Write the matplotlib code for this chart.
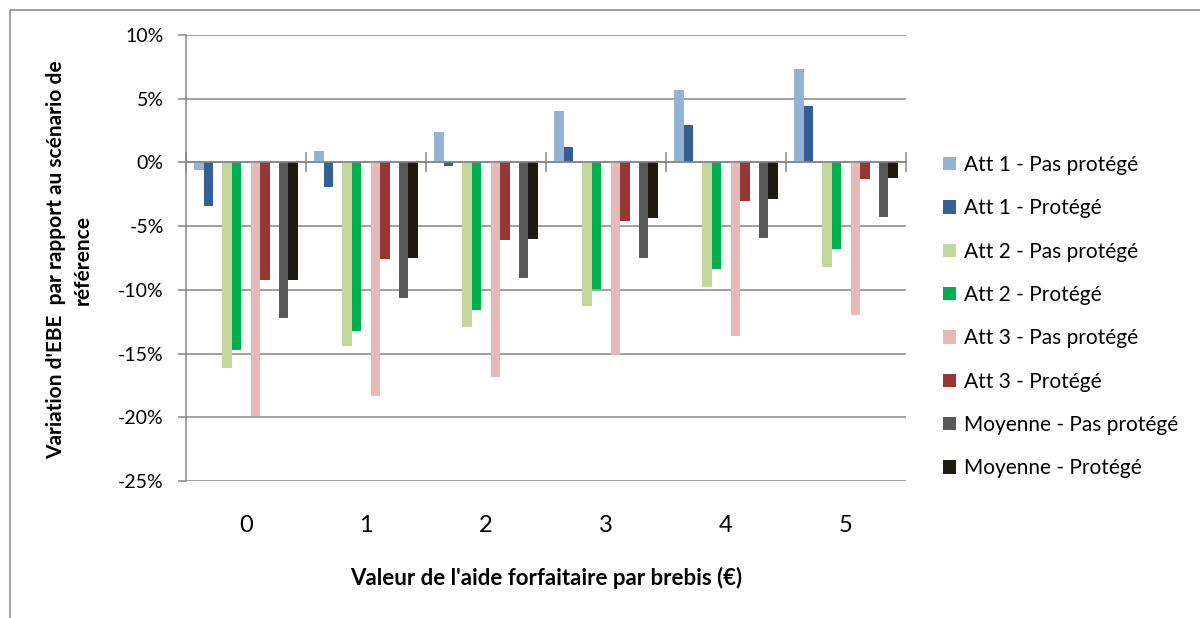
import matplotlib
matplotlib.use('Agg')
import matplotlib.pyplot as plt
from matplotlib.patches import Rectangle, Patch
from matplotlib.ticker import FuncFormatter, MultipleLocator
import numpy as np

plt.rcParams['font.family'] = ['Lato', 'DejaVu Sans']

# ---- data ----
categories = ['0', '1', '2', '3', '4', '5']
series_names = ['Att 1 - Pas protégé', 'Att 1 - Protégé',
                'Att 2 - Pas protégé', 'Att 2 - Protégé',
                'Att 3 - Pas protégé', 'Att 3 - Protégé',
                'Moyenne - Pas protégé', 'Moyenne - Protégé']
att1_pas = [-0.6, 0.9, 2.4, 4.0, 5.7, 7.3]
att1_prot = [-3.4, -1.9, -0.3, 1.2, 2.9, 4.4]
att2_pas = [-16.1, -14.4, -12.9, -11.3, -9.8, -8.2]
att2_prot = [-14.7, -13.2, -11.6, -9.9, -8.4, -6.8]
att3_pas = [-19.9, -18.3, -16.8, -15.1, -13.6, -12.0]
att3_prot = [-9.2, -7.6, -6.1, -4.6, -3.0, -1.3]
moy_pas = [-12.2, -10.6, -9.1, -7.5, -5.9, -4.3]
moy_prot = [-9.2, -7.5, -6.0, -4.4, -2.9, -1.2]

series_values = [att1_pas, att1_prot, att2_pas, att2_prot,
                 att3_pas, att3_prot, moy_pas, moy_prot]
colors = ['#95B3D7', '#376092', '#C3D69B', '#00B050',
          '#E6B9B8', '#953735', '#595959', '#1D1B10']

W, H = 1200, 618
fig = plt.figure(figsize=(W / 100, H / 100), dpi=100)

# outer chart border
fig.patches.append(Rectangle((10 / W, -0.05), 1.2, 1 - 10 / H + 0.05,
                             transform=fig.transFigure, fill=False,
                             edgecolor='#868686', linewidth=1.1))

left, right, top, bottom = 186, 906, 35, 481
ax = fig.add_axes([left / W, 1 - bottom / H, (right - left) / W, (bottom - top) / H])

grid_col = '#868686'
x = np.arange(len(categories))
bw = 0.08
pair_offsets = [-0.354, -0.118, 0.118, 0.354]
for i, (vals, col, name) in enumerate(zip(series_values, colors, series_names)):
    off = pair_offsets[i // 2] + (-bw / 2 if i % 2 == 0 else bw / 2)
    ax.bar(x + off, vals, width=bw, color=col, label=name, zorder=2, linewidth=0)

ax.set_xlim(-0.5, len(categories) - 0.5)
ax.set_ylim(-25, 10)
ax.yaxis.set_major_locator(MultipleLocator(5))
ax.yaxis.set_major_formatter(FuncFormatter(lambda v, p: f'{v:.0f}%'))
ax.yaxis.grid(True, color=grid_col, linewidth=1.1, zorder=0)
ax.set_axisbelow(True)

for s in ['top', 'right']:
    ax.spines[s].set_visible(False)
ax.spines['left'].set_color(grid_col)
ax.spines['left'].set_linewidth(1.1)
ax.spines['bottom'].set_position(('data', 0))
ax.spines['bottom'].set_color(grid_col)
ax.spines['bottom'].set_linewidth(1.1)
ax.spines['bottom'].set_zorder(3)

ax.tick_params(axis='y', direction='out', length=6, width=1.1, color=grid_col,
               labelsize=14, pad=10, labelcolor='black')
# boundary ticks on the zero line
ax.set_xticks(np.arange(-0.5, len(categories), 1.0))
ax.set_xticklabels([])
ax.tick_params(axis='x', which='major', direction='inout', length=14, width=1.1,
               color=grid_col)
ax.set_xticks(x, categories, minor=True)
ax.tick_params(axis='x', which='minor', length=0, labelsize=17, pad=254,
               labelcolor='black')

fig.text(546 / W, 1 - 578 / H, "Valeur de l'aide forfaitaire par brebis (€)",
         ha='center', va='center', fontsize=16, fontweight='bold')
fig.text(56 / W, 1 - 260 / H, "Variation d'EBE  par rapport au scénario de",
         ha='center', va='center', rotation=90, fontsize=15, fontweight='bold')
fig.text(83 / W, 1 - 260 / H, "référence",
         ha='center', va='center', rotation=90, fontsize=15, fontweight='bold')

handles = [Patch(facecolor=c, edgecolor='none') for c in colors]
fig.legend(handles, series_names, loc='upper left',
           bbox_to_anchor=(943 / W, 1 - 155 / H), frameon=False,
           fontsize=15, borderpad=0, borderaxespad=0,
           handlelength=0.62, handleheight=0.62, handletextpad=0.4,
           labelspacing=1.12)

fig.savefig('out.png', dpi=100)
